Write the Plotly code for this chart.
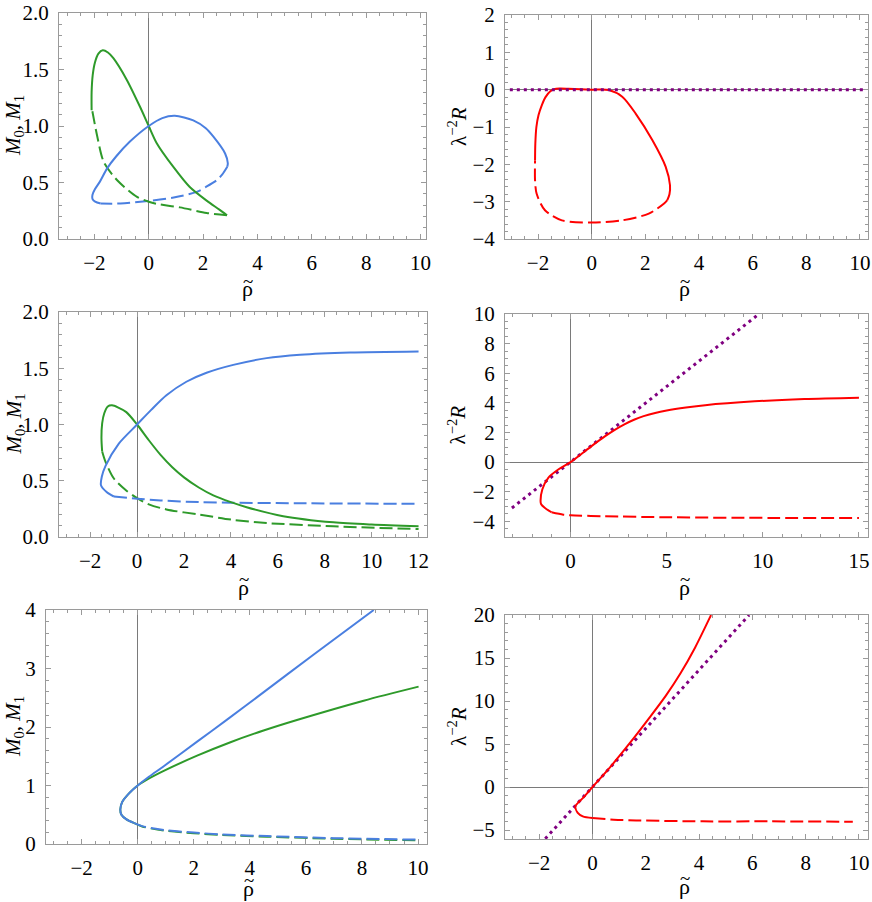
import plotly.graph_objects as go
from plotly.subplots import make_subplots

W, H = 872, 902

# ---- panel 1 (top left) ----
p1_green_solid_x = [-2.1, -2.1, -2.06, -1.98, -1.85, -1.69, -1.5, -1.3, -0.81, -0.32, 0, 0.29, 0.9, 1.51, 2.13, 2.6, 2.88]
p1_green_solid_y = [1.14, 1.3, 1.45, 1.56, 1.64, 1.67, 1.65, 1.6, 1.41, 1.17, 1.0, 0.85, 0.64, 0.46, 0.34, 0.26, 0.21]
p1_green_dash_x = [2.88, 2.13, 1.15, 0.31, 0, -0.43, -1.16, -1.65, -1.89, -2.08]
p1_green_dash_y = [0.21, 0.23, 0.28, 0.31, 0.33, 0.373, 0.52, 0.68, 0.905, 1.14]
p1_blue_solid_x = [-1.77, -1.97, -2.07, -2.07, -1.98, -1.79, -1.53, -1.2, -0.7, 0, 0.5, 0.96, 1.64, 2.1, 2.38, 2.81, 2.91, 2.89]
p1_blue_solid_y = [0.314, 0.33, 0.355, 0.39, 0.44, 0.51, 0.625, 0.73, 0.86, 1.0, 1.07, 1.09, 1.05, 0.98, 0.905, 0.757, 0.67, 0.64]
p1_blue_dash_x = [2.89, 2.7, 2.5, 2.1, 1.77, 0.92, 0, -1.04, -1.77]
p1_blue_dash_y = [0.64, 0.57, 0.52, 0.46, 0.417, 0.367, 0.337, 0.314, 0.314]

# ---- panel 2 (top right) ----
p2_red_solid_x = [-2.11, -2.1, -2.06, -1.98, -1.86, -1.72, -1.55, -1.4, -1.2, -0.86, 0, 0.64, 1.14, 1.64, 2.26, 2.76, 2.92, 2.9, 2.82]
p2_red_solid_y = [-1.9, -1.45, -1.0, -0.68, -0.42, -0.2, -0.05, 0.01, 0.03, 0.025, 0.0, -0.01, -0.19, -0.64, -1.35, -2.07, -2.56, -2.8, -2.96]
p2_red_dash_x = [2.82, 2.7, 2.13, 1.14, 0, -1.11, -1.74, -2.05, -2.11, -2.11]
p2_red_dash_y = [-2.96, -3.05, -3.32, -3.5, -3.56, -3.5, -3.23, -2.79, -2.43, -1.9]
p2_asym_x = [-3.05, 10.25]
p2_asym_y = [0, 0]

# ---- panel 3 (middle left) ----
p3_blue_solid_x = [-0.99, -1.3, -1.54, -1.5, -1.35, -0.78, 0, 0.6, 1.25, 2.1, 2.96, 4.1, 5.52, 6.95, 9.08, 12.0]
p3_blue_solid_y = [0.36, 0.4, 0.46, 0.54, 0.63, 0.83, 1.0, 1.13, 1.26, 1.38, 1.46, 1.53, 1.59, 1.62, 1.64, 1.65]
p3_blue_dash_x = [-0.99, 0, 1.0, 2.63, 4.0, 6.95, 12.0]
p3_blue_dash_y = [0.36, 0.34, 0.325, 0.31, 0.305, 0.30, 0.295]
p3_green_solid_x = [-1.49, -1.52, -1.49, -1.4, -1.25, -1.07, -0.8, -0.46, 0, 0.5, 1.0, 1.5, 2.0, 2.63, 3.25, 4.0, 4.67, 6.23, 8.37, 10.0, 12.0]
p3_green_solid_y = [0.76, 0.88, 1.01, 1.1, 1.16, 1.17, 1.15, 1.11, 1.0, 0.86, 0.73, 0.62, 0.53, 0.44, 0.37, 0.31, 0.265, 0.185, 0.13, 0.11, 0.095]
p3_green_dash_x = [-1.49, -1.35, -0.99, -0.5, 0, 0.5, 1.25, 2.68, 4.0, 5.52, 8.37, 12.0]
p3_green_dash_y = [0.76, 0.67, 0.52, 0.42, 0.345, 0.29, 0.245, 0.198, 0.155, 0.124, 0.095, 0.07]

# ---- panel 4 (middle right) ----
p4_red_solid_x = [-0.99, -1.33, -1.53, -1.56, -1.47, -1.16, -0.64, 0, 1.09, 1.8, 2.3, 2.8, 3.3, 3.8, 4.4, 5.0, 6.0, 7.0, 9.57, 12.16, 15.0]
p4_red_solid_y = [-3.39, -3.1, -2.85, -2.64, -1.85, -1.06, -0.5, 0, 1.08, 1.75, 2.18, 2.55, 2.86, 3.1, 3.32, 3.48, 3.68, 3.84, 4.1, 4.26, 4.35]
p4_red_dash_x = [-0.99, -0.38, 0, 1.78, 5.24, 10.43, 15.0]
p4_red_dash_y = [-3.39, -3.55, -3.59, -3.66, -3.73, -3.77, -3.77]
p4_asym_x = [-3.05, 9.8]
p4_asym_y = [-3.1, 10.0]

# ---- panel 5 (bottom left) ----
p5_blue_solid_x = [-0.14, -0.4, -0.58, -0.62, -0.55, -0.3, 0, 0.4, 0.93, 2.12, 3.2, 4.26, 6.28, 8.42]
p5_blue_solid_y = [0.36, 0.42, 0.5, 0.59, 0.72, 0.87, 1.0, 1.15, 1.33, 1.75, 2.13, 2.51, 3.24, 4.0]
p5_green_solid_x = [-0.14, -0.4, -0.58, -0.62, -0.55, -0.3, 0, 0.33, 0.93, 2.12, 3.31, 4.49, 5.68, 8.06, 10.02]
p5_green_solid_y = [0.36, 0.42, 0.5, 0.59, 0.72, 0.87, 1.0, 1.10, 1.25, 1.51, 1.74, 1.94, 2.12, 2.45, 2.69]
p5_green_dash_x = [-0.14, 0.16, 0.93, 2.0, 2.95, 4.61, 6.99, 10.02]
p5_green_dash_y = [0.36, 0.30, 0.23, 0.185, 0.155, 0.125, 0.09, 0.063]
p5_blue_dash_x = [-0.14, 0.16, 0.93, 2.0, 2.95, 4.61, 6.99, 10.02]
p5_blue_dash_y = [0.36, 0.305, 0.24, 0.195, 0.165, 0.135, 0.1, 0.074]

# ---- panel 6 (bottom right) ----
p6_red_solid_x = [0, -0.36, -0.55, -0.64, -0.5, -0.36, 0, 0.7, 1.4, 2.1, 2.75, 3.3, 3.85, 4.39, 4.45]
p6_red_solid_y = [-3.6, -3.4, -3.0, -2.24, -1.7, -1.28, 0, 2.45, 5.1, 7.9, 10.6, 13.2, 16.2, 19.6, 20.0]
p6_red_dash_x = [0, 0.8, 1.64, 4.14, 6.65, 9.77]
p6_red_dash_y = [-3.6, -3.78, -3.87, -3.98, -3.98, -4.02]
p6_asym_x = [-1.77, 5.88]
p6_asym_y = [-6.0, 20.0]

BLUE = '#4a7fe0'
GREEN = '#2e9a2a'
RED = '#ff0000'
PURPLE = '#800080'
DASH = '13px,5px'
FONT = 'Liberation Serif'

fig = make_subplots(rows=3, cols=2)


def line(x, y, color, row, col, dash='solid', shape='spline'):
    fig.add_trace(go.Scatter(x=x, y=y, mode='lines',
                             line=dict(color=color, width=2, dash=dash, shape=shape, smoothing=0.8),
                             showlegend=False, hoverinfo='skip'),
                  row=row, col=col)


def dots(x, y, row, col):
    fig.add_trace(go.Scatter(x=x, y=y, mode='lines',
                             line=dict(color=PURPLE, width=3, dash='3px,4px'),
                             showlegend=False, hoverinfo='skip'),
                  row=row, col=col)


line(p1_blue_dash_x, p1_blue_dash_y, BLUE, 1, 1, DASH)
line(p1_green_dash_x, p1_green_dash_y, GREEN, 1, 1, DASH)
line(p1_green_solid_x, p1_green_solid_y, GREEN, 1, 1)
line(p1_blue_solid_x, p1_blue_solid_y, BLUE, 1, 1)

line(p2_red_solid_x, p2_red_solid_y, RED, 1, 2)
line(p2_red_dash_x, p2_red_dash_y, RED, 1, 2, DASH)
dots(p2_asym_x, p2_asym_y, 1, 2)

line(p3_green_dash_x, p3_green_dash_y, GREEN, 2, 1, DASH)
line(p3_blue_dash_x, p3_blue_dash_y, BLUE, 2, 1, DASH)
line(p3_green_solid_x, p3_green_solid_y, GREEN, 2, 1)
line(p3_blue_solid_x, p3_blue_solid_y, BLUE, 2, 1)

dots(p4_asym_x, p4_asym_y, 2, 2)
line(p4_red_solid_x, p4_red_solid_y, RED, 2, 2)
line(p4_red_dash_x, p4_red_dash_y, RED, 2, 2, DASH)

line(p5_green_dash_x, p5_green_dash_y, GREEN, 3, 1, DASH)
line(p5_blue_dash_x, p5_blue_dash_y, BLUE, 3, 1, DASH)
line(p5_green_solid_x, p5_green_solid_y, GREEN, 3, 1)
line(p5_blue_solid_x, p5_blue_solid_y, BLUE, 3, 1)

dots(p6_asym_x, p6_asym_y, 3, 2)
line(p6_red_solid_x, p6_red_solid_y, RED, 3, 2)
line(p6_red_dash_x, p6_red_dash_y, RED, 3, 2, DASH)

# frame boxes in pixels: left, right, top, bottom
boxes = [(59, 426, 13, 239), (505, 868, 15, 239),
         (59, 427, 312, 537), (505, 868, 314, 537),
         (46, 427, 610, 844), (505, 868, 615, 839)]
xranges = [[-3.3, 10.2], [-3.23, 10.3], [-3.33, 12.36], [-3.41, 15.47], [-3.27, 10.32], [-3.28, 10.34]]
yranges = [[0, 2], [-4, 2], [0, 2], [-5.06, 10], [0, 4], [-6.03, 20]]
xticks = [(2, 0.5), (2, 0.5), (2, 0.5), (5, 1), (2, 0.5), (2, 0.5)]
yticks = [(0.5, 0.1), (1, 0.2), (0.5, 0.1), (2, 0.5), (1, 0.2), (5, 1)]
yfmt = ['.1f', 'd', '.1f', 'd', 'd', 'd']
M_LABEL = '<i>M</i><sub>0</sub>, <i>M</i><sub>1</sub>'
R_LABEL = 'λ<sup>−2</sup><i>R</i>'
ylabels = [M_LABEL, R_LABEL, M_LABEL, R_LABEL, M_LABEL, R_LABEL]
# axis title anchor points (pixels): x title centre, y title x position
xtitle_pos = [(247, 289), (684, 289), (243, 587), (684, 587), (248, 888), (684, 886)]
ytitle_x = [14, 457, 14, 457, 14, 457]

FRAME = '#9a9a9a'
common = dict(showline=True, linecolor=FRAME, linewidth=1, mirror='ticks',
              ticks='inside', ticklen=5, tickcolor=FRAME, showgrid=False,
              zeroline=True, zerolinecolor='#7a7a7a', zerolinewidth=1,
              tickfont=dict(family=FONT, size=21, color='black'),
              ticklabelstandoff=5, ticklabeloverflow='allow', automargin=False)

annotations = []
for i in range(6):
    l, r, t, b = boxes[i]
    n = '' if i == 0 else str(i + 1)
    fig.layout['xaxis' + n].update(
        domain=[l / W, r / W], range=xranges[i], dtick=xticks[i][0], tick0=0,
        minor=dict(dtick=xticks[i][1], ticks='inside', ticklen=3, tickcolor=FRAME),
        **common)
    fig.layout['yaxis' + n].update(
        domain=[1 - b / H, 1 - t / H], range=yranges[i], dtick=yticks[i][0], tick0=0,
        tickformat=yfmt[i],
        minor=dict(dtick=yticks[i][1], ticks='inside', ticklen=3, tickcolor=FRAME),
        **common)
    # x title: rho with a tilde on top
    tx, ty = xtitle_pos[i]
    annotations.append(dict(text='ρ', x=tx / W, y=1 - ty / H, xref='paper', yref='paper',
                            showarrow=False, xanchor='center', yanchor='middle',
                            font=dict(family=FONT, size=22, color='black')))
    annotations.append(dict(text='~', x=(tx + 1) / W, y=1 - (ty - 8) / H, xref='paper', yref='paper',
                            showarrow=False, xanchor='center', yanchor='middle',
                            font=dict(family=FONT, size=19, color='black')))
    # y title
    annotations.append(dict(text=ylabels[i], x=ytitle_x[i] / W, y=1 - (t + b) / 2 / H,
                            xref='paper', yref='paper', showarrow=False, textangle=-90,
                            xanchor='center', yanchor='middle',
                            font=dict(family=FONT, size=21, color='black')))

fig.update_layout(template='none', width=W, height=H, margin=dict(l=0, r=0, t=0, b=0),
                  plot_bgcolor='white', paper_bgcolor='white',
                  font=dict(family=FONT, color='black'), annotations=annotations)

fig.write_html("out.html", config={'displayModeBar': False},
               post_script="document.body.style.margin='0';")
